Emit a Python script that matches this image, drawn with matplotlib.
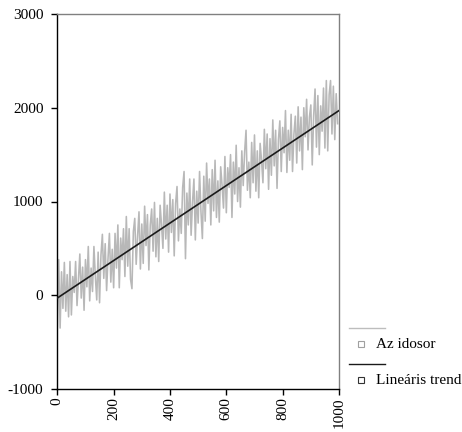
import matplotlib
matplotlib.use("Agg")
import matplotlib.pyplot as plt
from matplotlib.lines import Line2D

plt.rcParams['font.family'] = ['Liberation Serif', 'DejaVu Serif']
plt.rcParams['axes.unicode_minus'] = False

x_series = list(range(0, 1000, 5))
series_values = [
    -330, 380, -350, 250, -140, 350, -170, 220, -230, 360,
    -210, 200, 30, 360, -110, 160, 440, -30, 300, -160,
    380, 90, 520, -60, 290, 40, 520, 200, -50, 460,
    -80, 430, 650, 180, 550, 50, 390, 660, 140, 490,
    80, 660, 290, 750, 80, 610, 380, 710, 200, 840,
    310, 710, 170, 70, 680, 820, 330, 630, 890, 280,
    760, 340, 950, 530, 860, 270, 750, 920, 470, 990,
    410, 820, 360, 960, 750, 500, 1100, 600, 960, 460,
    1080, 670, 1020, 420, 980, 1160, 580, 920, 660, 1150,
    1320, 390, 1090, 750, 1240, 640, 990, 1240, 590, 1110,
    770, 1320, 890, 605, 1270, 790, 1410, 980, 1240, 750,
    1340, 900, 1440, 830, 1220, 780, 1370, 1170, 930, 1480,
    880, 1360, 1150, 1500, 830, 1420, 1080, 1600, 1000, 1360,
    940, 1540, 1170, 1530, 1760, 1120, 1420, 1040, 1630, 1200,
    1710, 1110, 1540, 1040, 1620, 1440, 1200, 1770, 1350, 1720,
    1130, 1670, 1280, 1870, 1380, 1760, 1140, 1660, 1860, 1320,
    1790, 1520, 1970, 1310, 1760, 1440, 1930, 1320, 1720, 1910,
    1410, 2010, 1540, 1900, 1340, 2000, 1690, 2090, 1550, 1900,
    2030, 1390, 1910, 2200, 1580, 2130, 1500, 2020, 1750, 2210,
    1570, 2290, 1540, 2140, 2290, 1720, 2230, 1660, 2150, 1830,
]

# linear trend endpoints
trend_x = [0, 1000]
trend_y = [-30, 1970]

x_ticks = [0, 200, 400, 600, 800, 1000]
y_ticks = [-1000, 0, 1000, 2000, 3000]
legend_labels = ["Az idosor", "Lineáris trend"]

W, H = 462, 432
fig = plt.figure(figsize=(W / 100, H / 100), dpi=100)
ax = fig.add_axes([57.3 / W, 1 - 389 / H, (339 - 57.3) / W, (389 - 14) / H])

ax.plot(x_series, series_values, color='#b8b8b8', lw=1.15, zorder=2)
ax.plot(trend_x, trend_y, color='#1a1a1a', lw=1.2, zorder=3)

ax.set_xlim(0, 1000)
ax.set_ylim(-1000, 3000)
ax.set_xticks(x_ticks)
ax.set_yticks(y_ticks)
ax.set_xticklabels([str(v) for v in x_ticks], rotation=90, fontsize=11)
ax.set_yticklabels([str(v) for v in y_ticks], fontsize=11)
ax.tick_params(axis='y', direction='out', length=4, width=1, pad=6, colors='black')
ax.tick_params(axis='x', direction='out', length=4, width=1, pad=2, colors='black')

for side in ['left', 'bottom']:
    ax.spines[side].set_color('black')
    ax.spines[side].set_linewidth(1.0)
for side in ['top', 'right']:
    ax.spines[side].set_color('#808080')
    ax.spines[side].set_linewidth(1.0)

# legend (Excel-style: line row, then marker + label row)
def fx(px):
    return px / W

def fy(py):
    return 1 - py / H

fig.add_artist(Line2D([fx(349), fx(385)], [fy(328), fy(328)], color='#bdbdbd', lw=1.0))
fig.add_artist(Line2D([fx(361)], [fy(344)], marker='s', markersize=4, markerfacecolor='white',
                      markeredgecolor='#a0a0a0', markeredgewidth=0.8, linestyle='none'))
fig.text(fx(376), fy(344), legend_labels[0], fontsize=11, va='center', ha='left')

fig.add_artist(Line2D([fx(349), fx(385)], [fy(364), fy(364)], color='#1a1a1a', lw=1.0))
fig.add_artist(Line2D([fx(361)], [fy(380)], marker='s', markersize=4, markerfacecolor='white',
                      markeredgecolor='#333333', markeredgewidth=0.8, linestyle='none'))
fig.text(fx(376), fy(380), legend_labels[1], fontsize=11, va='center', ha='left')

fig.savefig('out.png', dpi=100)
